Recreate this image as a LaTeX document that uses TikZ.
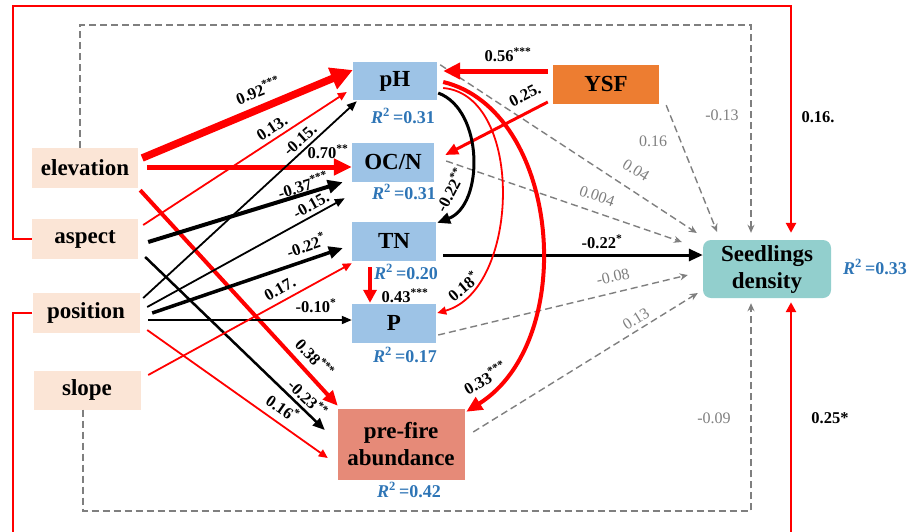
\documentclass[tikz,border=0pt]{standalone}
\usepackage{fontspec}
\setmainfont{Liberation Serif}
\usetikzlibrary{arrows.meta,calc}
\definecolor{peach}{HTML}{FBE5D6}
\definecolor{boxblue}{HTML}{9DC3E6}
\definecolor{ysfor}{HTML}{ED7D31}
\definecolor{pfsalmon}{HTML}{E68A78}
\definecolor{seedteal}{HTML}{92CFCD}
\definecolor{rblue}{HTML}{2E75B6}
\definecolor{dgray}{HTML}{7F7F7F}
\definecolor{pred}{HTML}{FF0000}
\newcommand{\mynodefont}{\fontsize{23}{27}\selectfont\bfseries}
\newcommand{\mylabfont}{\fontsize{16.5}{18}\selectfont\bfseries}
\newcommand{\mygfont}{\fontsize{16}{18}\selectfont}
\newcommand{\myrfont}{\fontsize{18}{20}\selectfont\bfseries}
\newcommand{\rsq}[1]{\textit{R}\textsuperscript{2}\,=#1}
\begin{document}
\begin{tikzpicture}[x=1pt,y=-1pt,
  vbox/.style={inner sep=0pt, font=\mynodefont, text=black},
  lab/.style={inner sep=0pt, font=\mylabfont},
  glab/.style={inner sep=0pt, font=\mygfont, text=dgray},
  rlab/.style={inner sep=0pt, font=\myrfont, text=rblue},
  redthin/.style={pred, line width=1.8pt, -{Triangle[length=9pt,width=8pt]}},
  blkthin/.style={black, line width=1.8pt, -{Triangle[length=10pt,width=8pt]}},
  gdash/.style={dgray, line width=1.4pt, dash pattern=on 7pt off 4pt, -{Stealth[length=8pt,width=7pt]}},
  outred/.style={pred, line width=2.5pt, -{Triangle[length=10pt,width=10pt]}}
]
\useasboundingbox (0,0) rectangle (909,531);

% nodes
\node[vbox, fill=peach, minimum width=106pt, minimum height=40pt] (elev) at (85,168) {elevation};
\node[vbox, fill=peach, minimum width=106pt, minimum height=40pt] (asp) at (85,239) {aspect};
\node[vbox, fill=peach, minimum width=107pt, minimum height=40pt] (pos) at (86,313) {position};
\node[vbox, fill=peach, minimum width=107pt, minimum height=39pt] (slope) at (87,390) {slope};
\node[vbox, fill=boxblue, minimum width=84pt, minimum height=38pt] (ph) at (395,81) {pH};
\node[vbox, fill=boxblue, minimum width=82pt, minimum height=39pt] (ocn) at (393,162) {OC/N};
\node[vbox, fill=boxblue, minimum width=84pt, minimum height=39pt] (tn) at (394,241) {TN};
\node[vbox, fill=boxblue, minimum width=84pt, minimum height=39pt] (p) at (394,323) {P};
\node[vbox, fill=pfsalmon, minimum width=127pt, minimum height=71pt, align=center] (pf) at (401,444) {pre-fire\\abundance};
\node[vbox, fill=ysfor, minimum width=106pt, minimum height=39pt] (ysf) at (606,84) {YSF};
\node[vbox, fill=seedteal, minimum width=128pt, minimum height=58pt, rounded corners=8pt, align=center] (seed) at (767,269) {Seedlings\\density};

% R2 labels
\node[rlab] (rph) at (403,116) {\rsq{0.31}};
\node[rlab] (rocn) at (404,192) {\rsq{0.31}};
\node[rlab] (rtn) at (406,272) {\rsq{0.20}};
\node[rlab] (rp) at (405,355) {\rsq{0.17}};
\node[rlab] (rpf) at (409,490) {\rsq{0.42}};
\node[rlab] (rseed) at (875,267) {\rsq{0.33}};

% frame coordinates
\coordinate (ttop) at (751,25);
\coordinate (tbot) at (751,511);
\coordinate (rtl) at (13,6);
\coordinate (rbl) at (13,545);

% dashed (non-significant) paths
\draw[gdash] ([xshift=-5pt]elev.north) |- (ttop) -- ([xshift=-16pt,yshift=7pt]seed.north);
\draw[gdash] ([xshift=-4pt]slope.south) |- (tbot) -- ([xshift=-16pt,yshift=-5pt]seed.south);
\draw[gdash] ([xshift=7pt,yshift=-1.5pt]ysf.south east) -- ([xshift=-50pt,yshift=8pt]seed.north);
\draw[gdash] ([xshift=3pt,yshift=-3pt]ph.north east) -- ([xshift=-6pt,yshift=36pt]seed.west);
\draw[gdash] ([xshift=12pt,yshift=1pt]ocn.east) -- ([xshift=-21pt,yshift=27pt]seed.west);
\draw[gdash] ([xshift=2pt,yshift=-12pt]p.east) -- ([xshift=-15pt,yshift=-6pt]seed.west);
\draw[gdash] ([xshift=8.5pt,yshift=12pt]pf.east) -- ([xshift=-5pt,yshift=-24pt]seed.west);

% outer red paths
\draw[outred] (asp.west) -| (rtl) -| ([xshift=24pt,yshift=7pt]seed.north);
\draw[outred] (pos.west) -| (rbl) -| ([xshift=24pt,yshift=-4pt]seed.south);

% solid paths
\draw[pred, line width=7.5pt, -{Triangle[length=22pt,width=22pt]}] ([xshift=4pt,yshift=10pt]elev.east) -- ([yshift=11pt]ph.west);
\draw[pred, line width=5pt, -{Triangle[length=18pt,width=16pt]}] ([xshift=9pt,yshift=1pt]elev.east) -- ([yshift=-5pt]ocn.west);
\draw[pred, line width=4pt, -{Triangle[length=15pt,width=13pt]}] ([xshift=2pt,yshift=-2pt]elev.south east) -- ([xshift=0.5pt,yshift=2.5pt]pf.north west);
\draw[redthin] ([xshift=5pt,yshift=14pt]asp.east) -- ([xshift=-6pt,yshift=-11pt]ph.west);
\draw[black, line width=4pt, -{Triangle[length=15pt,width=13pt]}] ([xshift=10pt,yshift=-3pt]asp.east) -- ([xshift=-9pt,yshift=-0.5pt]ocn.south west);
\draw[black, line width=2.5pt, -{Triangle[length=12pt,width=10pt]}] ([xshift=7pt,yshift=-18pt]asp.east) -- ([xshift=-12.5pt,yshift=14pt]pf.west);
\draw[blkthin] ([xshift=3.5pt,yshift=15pt]pos.east) -- ([xshift=4pt,yshift=-1pt]ph.south west);
\draw[blkthin] ([xshift=7.5pt,yshift=6pt]pos.east) -- ([xshift=-7pt,yshift=-16.5pt]ocn.south west);
\draw[black, line width=3.5pt, -{Triangle[length=14pt,width=12pt]}] ([xshift=12.5pt]pos.east) -- ([xshift=-9pt,yshift=-7pt]tn.west);
\draw[blkthin] ([xshift=8.5pt,yshift=-7pt]pos.east) -- ([yshift=3pt]p.west);
\draw[redthin] ([xshift=7.5pt,yshift=-17pt]pos.east) -- ([xshift=-9.5pt,yshift=-14pt]pf.west);
\draw[redthin] ([xshift=7.5pt,yshift=15pt]slope.east) -- ([yshift=-2.5pt]tn.south west);
\draw[pred, line width=5pt, -{Triangle[length=17pt,width=16pt]}] ([xshift=-5pt,yshift=13pt]ysf.west) -- ([xshift=6pt,yshift=10pt]ph.east);
\draw[pred, line width=3pt, -{Triangle[length=13pt,width=11pt]}] ([xshift=-5pt,yshift=-18pt]ysf.west) -- ([xshift=11pt,yshift=7pt]ocn.east);
\draw[black, line width=3pt, -{Triangle[length=13pt,width=11pt]}] ([xshift=1pt,yshift=-12pt]ph.east) .. controls (484,110) and (484,205) .. ([xshift=1pt,yshift=-1.5pt]tn.north east);
\draw[black, line width=3pt, -{Triangle[length=14pt,width=12pt]}] ([xshift=7pt,yshift=-14pt]tn.east) -- ([yshift=14pt]seed.west);
\draw[pred, line width=3.5pt, -{Triangle[length=13pt,width=13pt]}] ([xshift=-24pt,yshift=-6.5pt]tn.south) -- ([xshift=-24pt,yshift=0.5pt]p.north);
\draw[redthin] ([xshift=6pt,yshift=-7pt]ph.east) .. controls (525,95) and (520,290) .. ([xshift=1pt,yshift=10pt]p.east);
\draw[pred, line width=4pt, -{Triangle[length=16pt,width=14pt]}] ([xshift=6pt,yshift=-1pt]ph.east) .. controls (560,110) and (580,340) .. ([xshift=1.5pt,yshift=-3.5pt]pf.north east);

% path labels
\node[lab, rotate=22] (l1) at (258,90) {0.92\textsuperscript{***}};
\node[lab] (l2) at (328,152) {0.70\textsuperscript{**}};
\node[lab, rotate=-47] (l3) at (315,358) {0.38\textsuperscript{***}};
\node[lab, rotate=33] (l4) at (272,128) {0.13.};
\node[lab, rotate=17] (l5) at (303,185) {-0.37\textsuperscript{***}};
\node[lab, rotate=-44] (l6) at (308,398) {-0.23\textsuperscript{**}};
\node[lab, rotate=42] (l7) at (300,140) {-0.15.};
\node[lab, rotate=29] (l8) at (311,205) {-0.15.};
\node[lab, rotate=19] (l9) at (306,245) {-0.22\textsuperscript{*}};
\node[lab] (l10) at (316,306) {-0.10\textsuperscript{*}};
\node[lab, rotate=-35] (l11) at (283,408) {0.16\textsuperscript{*}};
\node[lab, rotate=29] (l12) at (280,289) {0.17.};
\node[lab] (l13) at (508,55) {0.56\textsuperscript{***}};
\node[lab, rotate=27] (l14) at (525,95) {0.25.};
\node[lab, rotate=62] (l15) at (450,190) {-0.22\textsuperscript{**}};
\node[lab] (l16) at (602,242) {-0.22\textsuperscript{*}};
\node[lab] (l17) at (405,296) {0.43\textsuperscript{***}};
\node[lab, rotate=40] (l18) at (463,286) {0.18\textsuperscript{*}};
\node[lab, rotate=30] (l19) at (485,378) {0.33\textsuperscript{***}};
\node[lab] (l20) at (818,117) {0.16.};
\node[lab] (l21) at (830,418) {0.25*};

% non-significant labels
\node[glab] (g1) at (722,115) {-0.13};
\node[glab] (g2) at (653,141) {0.16};
\node[glab, rotate=-32] (g3) at (636,170) {0.04};
\node[glab, rotate=-19] (g4) at (597,196) {0.004};
\node[glab, rotate=13] (g5) at (613,277) {-0.08};
\node[glab, rotate=32] (g6) at (636,319) {0.13};
\node[glab] (g7) at (714,418) {-0.09};
\end{tikzpicture}
\end{document}
